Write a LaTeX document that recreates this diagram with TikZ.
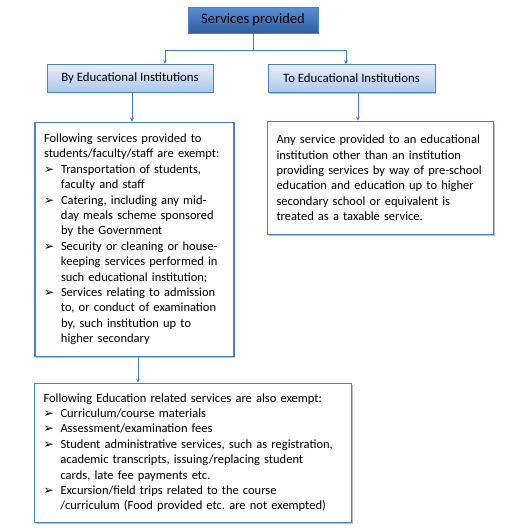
\documentclass[tikz,border=0pt]{standalone}
\usepackage{fontspec}
\setmainfont{Carlito}
\newfontfamily\symfont{DejaVu Sans}
\usetikzlibrary{positioning,arrows.meta,shadows}
\definecolor{hdrtop}{HTML}{5A8FD6}
\definecolor{hdrbot}{HTML}{2E5E9E}
\definecolor{subtop}{HTML}{E8EFFA}
\definecolor{subbot}{HTML}{AFC6EA}
\definecolor{edge}{HTML}{4F81BD}
\definecolor{link}{HTML}{4A7EBB}
\newcommand{\bul}{{\symfont\fontsize{12}{12}\selectfont ➢}}
\newenvironment{bullets}[1]{\noindent\begin{tabular}{@{}p{17pt}@{}l@{}}\multicolumn{2}{@{}l@{}}{#1}\\}{\end{tabular}}

\begin{document}
\begin{tikzpicture}[x=1pt, y=-1pt,
    shade/.style={drop shadow={shadow xshift=1.2pt, shadow yshift=-1.2pt, fill=black, opacity=0.25}},
    hdr/.style={draw=edge, top color=hdrtop, bottom color=hdrbot, shade,
      minimum width=130pt, minimum height=26pt, font=\fontsize{14.5}{17}\selectfont},
    sub/.style={draw=edge, top color=subtop, bottom color=subbot, shade,
      minimum height=28pt, font=\fontsize{12.8}{15}\selectfont},
    list/.style={draw=edge, line width=1.6pt, fill=white, shade, align=left,
      inner xsep=9pt, font=\fontsize{12.5}{15.4}\selectfont},
    conn/.style={draw=link, line width=0.9pt, -{Stealth[length=4pt, width=3.6pt]}}]
  \path[fill=white, use as bounding box] (0,0) rectangle (512,531);
  % top of the tree
  \node[hdr] (srv) at (253,20) {Services provided};
  \node[sub, minimum width=166pt] (byei) at (130,78) {By Educational Institutions};
  \node[sub, minimum width=167pt] (toei) at (351.5,78.5) {To Educational Institutions};
  % the lists
  \node[list, text width=181pt, minimum height=234pt] (byeilist) at (134.5,239.5) {%
    \begin{bullets}{Following services provided to}
      \multicolumn{2}{@{}l@{}}{students/faculty/staff are exempt:}\\
      \bul & Transportation of students,\\ & faculty and staff\\
      \bul & Catering, including any mid-\\ & day meals scheme sponsored\\ & by the Government\\
      \bul & Security or cleaning or house-\\ & keeping services performed in\\ & such educational institution;\\
      \bul & Services relating to admission\\ & to, or conduct of examination\\ & by, such institution up to\\ & higher secondary
    \end{bullets}};
  \node[list, text width=208pt, minimum height=113pt] (toeilist) at (380.5,178) {%
    \noindent Any service provided to an educational\newline institution other than an institution\newline
    providing services by way of pre-school\newline education and education up to higher\newline
    secondary school or equivalent is\newline treated as a taxable service.};
  \node[list, text width=299pt, minimum height=139pt] (alsoex) at (193,453) {%
    \begin{bullets}{Following Education related services are also exempt:}
      \bul & Curriculum/course materials\\
      \bul & Assessment/examination fees\\
      \bul & Student administrative services, such as registration,\\ & academic transcripts, issuing/replacing student\\ & cards, late fee payments etc.\\
      \bul & Excursion/field trips related to the course\\ & /curriculum (Food provided etc.\ are not exempted)
    \end{bullets}};
  % connectors
  \coordinate (split) at (253,50);
  \draw[conn] (srv.south) -- (split) -| ([xshift=35pt]byei.north);
  \draw[conn] (split) -| ([xshift=-5.5pt]toei.north);
  \draw[conn] ([xshift=2pt]byei.south) -- ([xshift=2pt]byei.south |- byeilist.north);
  \draw[conn] ([xshift=6.5pt]toei.south) -- ([xshift=6.5pt]toei.south |- toeilist.north);
  \draw[conn] ([xshift=3.5pt]byeilist.south) -- ([xshift=3.5pt]byeilist.south |- alsoex.north);
\end{tikzpicture}
\end{document}
